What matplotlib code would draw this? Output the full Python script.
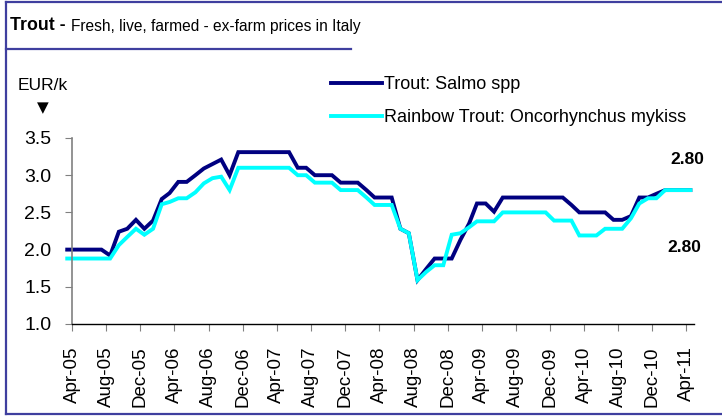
import numpy as np
import pandas as pd
import matplotlib
matplotlib.use("Agg")
import matplotlib.pyplot as plt
import matplotlib.dates as mdates
from matplotlib.lines import Line2D
from matplotlib import font_manager

# monthly ex-farm prices, EUR/kg (Mar-05 .. Apr-11, plotted mid-month)
months = pd.date_range("2005-03-01", "2011-04-01", freq="MS") + pd.Timedelta(days=14)

salmo = [2.0, 2.0, 2.0, 2.0, 2.0, 1.92, 2.24, 2.28, 2.40, 2.28,
         2.39, 2.68, 2.76, 2.91, 2.91, 3.00, 3.09, 3.15, 3.21, 3.00,
         3.31, 3.31, 3.31, 3.31, 3.31, 3.31, 3.31, 3.1, 3.1, 3.0,
         3.0, 3.0, 2.9, 2.9, 2.9, 2.8, 2.7, 2.7, 2.7, 2.28,
         2.22, 1.59, 1.74, 1.88, 1.88, 1.88, 2.13, 2.35, 2.62, 2.62,
         2.51, 2.7, 2.7, 2.7, 2.7, 2.7, 2.7, 2.7, 2.7, 2.6,
         2.5, 2.5, 2.5, 2.5, 2.4, 2.4, 2.45, 2.7, 2.7, 2.75,
         2.8, 2.8, 2.8, 2.8]

rainbow = [1.88, 1.88, 1.88, 1.88, 1.88, 1.88, 2.06, 2.17, 2.28, 2.20,
           2.28, 2.61, 2.64, 2.69, 2.69, 2.77, 2.89, 2.96, 2.98, 2.80,
           3.1, 3.1, 3.1, 3.1, 3.1, 3.1, 3.1, 3.0, 3.0, 2.9,
           2.9, 2.9, 2.8, 2.8, 2.8, 2.7, 2.6, 2.6, 2.6, 2.28,
           2.22, 1.59, 1.7, 1.79, 1.79, 2.2, 2.22, 2.3, 2.38, 2.38,
           2.38, 2.5, 2.5, 2.5, 2.5, 2.5, 2.5, 2.39, 2.39, 2.39,
           2.19, 2.19, 2.19, 2.28, 2.28, 2.28, 2.42, 2.62, 2.69, 2.69,
           2.8, 2.8, 2.8, 2.8]

labels = ["Trout: Salmo spp", "Rainbow Trout: Oncorhynchus mykiss"]
tick_dates = pd.date_range("2005-04-01", "2011-04-01", freq="4MS")

names = {f.name for f in font_manager.fontManager.ttflist}
narrow = "Liberation Sans Narrow" in names
plt.rcParams["font.family"] = ["Liberation Sans", "DejaVu Sans"]

W, H = 722, 417
fig = plt.figure(figsize=(W / 100, H / 100), dpi=100)

def fx(px):
    return px / W

def fy(py):
    return 1 - py / H

# frame lines
border = "#3F3F9F"
fig.add_artist(Line2D([fx(6), fx(6)], [fy(2), fy(414)], color=border, lw=1.6))
fig.add_artist(Line2D([fx(6), 1], [fy(2), fy(2)], color=border, lw=1.6))
fig.add_artist(Line2D([fx(6), 1], [fy(414), fy(414)], color=border, lw=1.6))
fig.add_artist(Line2D([fx(6), fx(351)], [fy(49), fy(49)], color=border, lw=1.6))

# title
if narrow:
    tfam = ["Liberation Sans Narrow", "Liberation Sans"]
    fig.text(fx(10), fy(26), "Trout -", fontsize=15, fontweight="bold", family=tfam, va="center")
    fig.text(fx(68), fy(26), "Fresh, live, farmed - ex-farm prices in Italy", fontsize=13,
             family=tfam, va="center")
else:
    fig.text(fx(10), fy(26), "Trout -", fontsize=12.8, fontweight="bold", va="center")
    fig.text(fx(71), fy(26), "Fresh, live, farmed - ex-farm prices in Italy", fontsize=11.2,
             va="center")

fig.text(fx(18), fy(85), "EUR/k", fontsize=12.5, va="center")
fig.text(fx(43), fy(108), "\u25BC", fontsize=11, va="center", ha="center", family=["DejaVu Sans"])

ax = fig.add_axes([fx(72), fy(324), fx(694) - fx(72), fy(138) - fy(324)])
l1, = ax.plot(months, salmo, color="#000080", lw=2.8, clip_on=False, solid_joinstyle="miter")
l2, = ax.plot(months, rainbow, color="#00FFFF", lw=2.8, clip_on=False, solid_joinstyle="miter")

ax.set_ylim(1.0, 3.5)
ax.set_xlim(pd.Timestamp("2005-04-01"), pd.Timestamp("2011-04-28"))
ax.set_yticks(np.arange(1.0, 3.51, 0.5))
ax.yaxis.set_major_formatter(plt.FormatStrFormatter("%.1f"))
ax.set_xticks(tick_dates)
ax.xaxis.set_major_formatter(mdates.DateFormatter("%b-%y"))

for s in ["top", "right"]:
    ax.spines[s].set_visible(False)
ax.spines["left"].set_color("#808080")
ax.spines["left"].set_linewidth(1.2)
ax.spines["bottom"].set_color("black")
ax.spines["bottom"].set_linewidth(1.0)
ax.tick_params(axis="y", length=5, color="#808080", labelsize=14, pad=10)
ax.tick_params(axis="x", length=5, color="#808080", labelsize=13.5, pad=11, labelrotation=90)

ax.text(0.989, 0.882, f"{salmo[-1]:.2f}", transform=ax.transAxes, ha="center", va="center",
        fontsize=12.5, fontweight="bold")
ax.text(0.985, 0.409, f"{rainbow[-1]:.2f}", transform=ax.transAxes, ha="center", va="center",
        fontsize=12.5, fontweight="bold")

fig.legend([l1, l2], labels, loc="upper left", bbox_to_anchor=(fx(331), fy(76)),
           frameon=False, fontsize=13, handlelength=2.8, handletextpad=0.15,
           labelspacing=0.9, borderpad=0, borderaxespad=0)

fig.savefig("out.png", dpi=100)
